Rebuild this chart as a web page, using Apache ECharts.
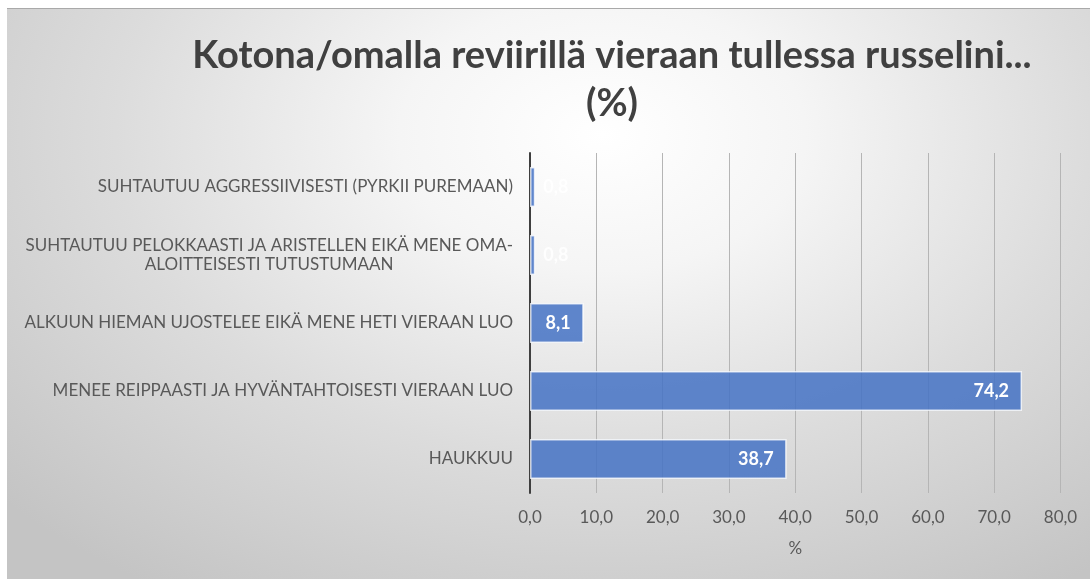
<html>
<head>
<title>Kotona/omalla reviirillä</title>
<script src="https://cdn.jsdelivr.net/npm/echarts@6/dist/echarts.min.js"></script>
<style>
body { margin:0; background:#ffffff; }
#main {
    position:absolute; left:7px; top:8px; width:1083px; height:571px;
    border-top:1px solid #a9a9a9;
    background: radial-gradient(ellipse 75% 95% at 55% 22%, #ffffff 0%, #f5f5f5 25%, #dcdcdc 60%, #c4c4c4 100%);
}
</style>
<script type="text/javascript">

// kategoriat ylhäältä alas
var categories = [
    'SUHTAUTUU AGGRESSIIVISESTI (PYRKII PUREMAAN)',
    'SUHTAUTUU PELOKKAASTI JA ARISTELLEN EIKÄ MENE OMA-\nALOITTEISESTI TUTUSTUMAAN',
    'ALKUUN HIEMAN UJOSTELEE EIKÄ MENE HETI VIERAAN LUO',
    'MENEE REIPPAASTI JA HYVÄNTAHTOISESTI VIERAAN LUO',
    'HAUKKUU'
];
var values = [0.8, 0.8, 8.1, 74.2, 38.7];
var xTicks = [0, 10, 20, 30, 40, 50, 60, 70, 80];

function fmt(v) {
    return v.toFixed(1).replace('.', ',');
}

function init() {
    var myChart = echarts.init(document.getElementById('main'));

    // pienille arvoille label palkin oikealle puolelle
    var seriesData = values.map(function (v) {
        if (v < 3) {
            return { value: v, label: { position: 'right', distance: 8, color: 'rgba(255,255,255,0.85)' } };
        }
        return v;
    });

    option = {
        textStyle: { fontFamily: 'Lato' },
        title: {
            text: 'Kotona/omalla reviirillä vieraan tullessa russelini...\n(%)',
            left: 600,
            top: 18,
            textAlign: 'center',
            textStyle: {
                fontFamily: 'Lato',
                fontWeight: 'bold',
                fontSize: 38,
                lineHeight: 48,
                color: '#404040'
            }
        },
        grid: { left: 523, right: 29.5, top: 144, bottom: 87, containLabel: false },
        xAxis: {
            type: 'value',
            min: xTicks[0],
            max: xTicks[xTicks.length - 1],
            interval: xTicks[1] - xTicks[0],
            name: '%',
            nameLocation: 'middle',
            nameGap: 47,
            nameTextStyle: { color: '#595959', fontSize: 17 },
            axisLine: { show: false },
            axisTick: { show: false },
            axisLabel: { color: '#595959', fontSize: 17, margin: 16, formatter: fmt },
            splitLine: { lineStyle: { color: '#b5b5b5', width: 1 } }
        },
        yAxis: {
            type: 'category',
            inverse: true,
            data: categories,
            axisLine: { lineStyle: { color: '#3f3f3f', width: 2 } },
            axisTick: { show: false },
            axisLabel: {
                margin: 17,
                formatter: function (v) {
                    return v.split('\n').map(function (s) { return '{c|' + s + '}'; }).join('\n');
                },
                rich: {
                    c: { align: 'center', color: '#595959', fontSize: 17, lineHeight: 19, fontFamily: 'Lato' }
                }
            }
        },
        series: [
            {
                name: '%',
                type: 'bar',
                barCategoryGap: '41%',
                data: seriesData,
                itemStyle: {
                    color: 'rgba(68,114,196,0.85)',
                    borderColor: 'rgba(255,255,255,0.75)',
                    borderWidth: 1.5
                },
                label: {
                    show: true,
                    position: 'insideRight',
                    distance: 13,
                    color: '#ffffff',
                    fontWeight: 'bold',
                    fontSize: 18,
                    fontFamily: 'Lato',
                    formatter: function (p) { return fmt(p.value); }
                }
            }
        ]
    };
    myChart.setOption(option);
}
</script>
</head>
<body onload="init();">
<div id="main"></div>
</body>
</html>
